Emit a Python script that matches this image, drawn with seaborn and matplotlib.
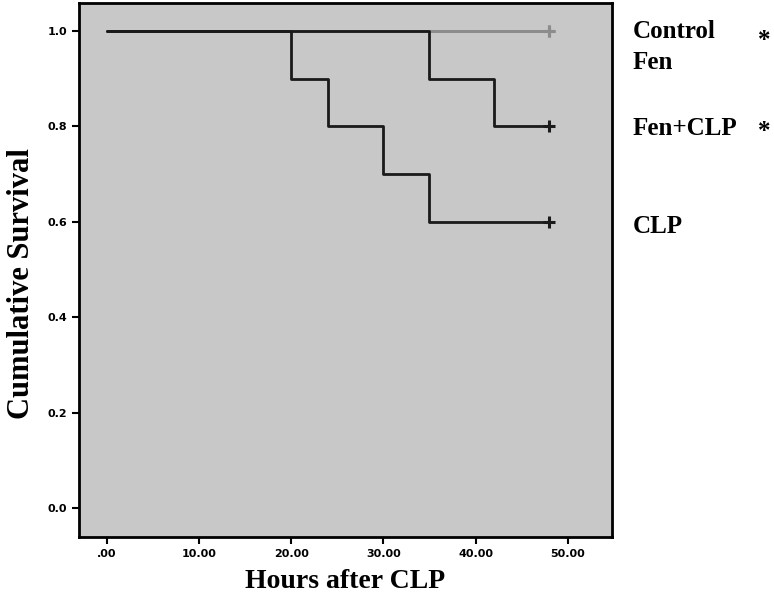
import pandas as pd
import matplotlib
matplotlib.use("Agg")
import matplotlib.pyplot as plt
import seaborn as sns

# Kaplan-Meier steps
control_t = [0, 48]
control_s = [1.0, 1.0]
fen_t = [0, 48]
fen_s = [1.0, 1.0]
fenclp_t = [0, 35, 42, 48]
fenclp_s = [1.0, 0.9, 0.8, 0.8]
clp_t = [0, 20, 24, 30, 35, 48]
clp_s = [1.0, 0.9, 0.8, 0.7, 0.6, 0.6]

groups = ["Control", "Fen", "Fen+CLP", "CLP"]
colors = {"Control": "#8c8c8c", "Fen": "#8c8c8c", "Fen+CLP": "#1a1a1a", "CLP": "#1a1a1a"}

rows = []
for g, t, s in [("Control", control_t, control_s), ("Fen", fen_t, fen_s),
                ("Fen+CLP", fenclp_t, fenclp_s), ("CLP", clp_t, clp_s)]:
    for ti, si in zip(t, s):
        rows.append({"group": g, "hours": ti, "surv": si})
df = pd.DataFrame(rows)

sns.set_style("ticks")
fig = plt.figure(figsize=(7.74, 6.01), dpi=100)
ax = fig.add_axes([79 / 774, 64 / 601, (612 - 79) / 774, (537 - 3) / 601])
ax.set_facecolor("#c8c8c8")

for g in groups:
    sub = df[df["group"] == g]
    sns.lineplot(data=sub, x="hours", y="surv", ax=ax, color=colors[g],
                 drawstyle="steps-post", linewidth=2, estimator=None, sort=False)
    last = sub.iloc[-1]
    sns.scatterplot(x=[last["hours"]], y=[last["surv"]], ax=ax, marker="+",
                    s=70, color=colors[g], linewidth=2.2, zorder=5)

ax.set_xlim(-3.0, 54.8)
ax.set_ylim(-0.061, 1.059)
ax.set_xticks([0, 10, 20, 30, 40, 50])
ax.set_xticklabels([".00", "10.00", "20.00", "30.00", "40.00", "50.00"])
ax.set_yticks([0.0, 0.2, 0.4, 0.6, 0.8, 1.0])
ax.set_yticklabels(["0.0", "0.2", "0.4", "0.6", "0.8", "1.0"])
for lab in ax.get_xticklabels() + ax.get_yticklabels():
    lab.set_fontweight("bold")
    lab.set_fontsize(8)
    lab.set_color("black")
ax.tick_params(axis="both", width=1.5, length=5, color="black")
for sp in ax.spines.values():
    sp.set_linewidth(2)
    sp.set_color("black")

ax.set_xlabel("Hours after CLP", fontsize=20, fontweight="bold", color="black",
              family="Liberation Serif", labelpad=7)
ax.set_ylabel("Cumulative Survival", fontsize=22, fontweight="bold", color="black",
              family="Liberation Serif")
ax.yaxis.set_label_coords(-0.08, 0.475)

# labels on the right side
lab_kw = dict(transform=ax.transData, fontsize=18, fontweight="bold", color="black",
              family="Liberation Serif", va="center", ha="left", clip_on=False)
ax.text(57.0, 1.0, "Control", **lab_kw)
ax.text(57.0, 0.935, "Fen", **lab_kw)
ax.text(57.0, 0.795, "Fen+CLP", **lab_kw)
ax.text(57.0, 0.59, "CLP", **lab_kw)
ax.text(70.6, 0.98, "*", **lab_kw)
ax.text(70.6, 0.79, "*", **lab_kw)

plt.savefig("out.png", dpi=100)
